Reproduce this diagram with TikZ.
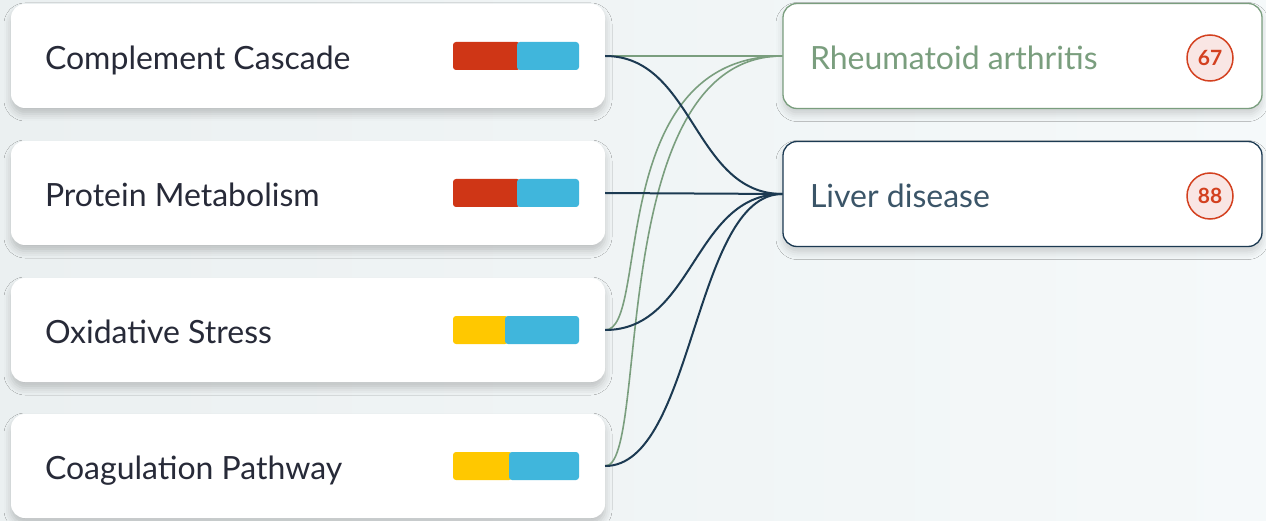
\documentclass[tikz,border=0pt]{standalone}
\usepackage{fontspec}
\setmainfont{Lato}
\usetikzlibrary{shadows.blur}

\definecolor{pagebg}{HTML}{EBF0F1}
\definecolor{pagebgr}{HTML}{F5F9FA}
\definecolor{inktext}{HTML}{272A38}
\definecolor{sage}{HTML}{7A9E7E}
\definecolor{navy}{HTML}{1C3A52}
\definecolor{slate}{HTML}{3B5568}
\definecolor{upred}{HTML}{CF3616}
\definecolor{midblue}{HTML}{40B6DC}
\definecolor{amber}{HTML}{FFC800}
\definecolor{badgered}{HTML}{D3401F}
\definecolor{badgefill}{HTML}{F9E6E4}

\begin{document}
\begin{tikzpicture}[
  x=1pt, y=-1pt,
  font=\fontsize{32}{36}\selectfont,
  pathway/.style={fill=white, rounded corners=14pt, minimum width=594pt, minimum height=104pt,
    inner xsep=34pt, text width=526pt, align=flush left, text=inktext, text height=30pt, text depth=3pt,
    blur shadow={shadow xshift=0pt, shadow yshift=-6pt, shadow blur radius=7pt, shadow opacity=20}},
  disease/.style={fill=white, rounded corners=14pt, minimum width=479pt, minimum height=105pt,
    inner xsep=27pt, text width=425pt, align=flush left, line width=1.3pt, text height=30pt, text depth=3pt,
    blur shadow={shadow xshift=0pt, shadow yshift=-6pt, shadow blur radius=7pt, shadow opacity=16}},
  score/.style={circle, draw=badgered, fill=badgefill, line width=1.5pt, minimum size=46pt,
    inner sep=0pt, text=badgered, font=\fontsize{21}{24}\selectfont\bfseries},
  seg/.style={rounded corners=3pt},
  sagelink/.style={draw=sage, line width=1.6pt},
  navylink/.style={draw=navy, line width=2pt}
]

\fill[left color=pagebg, right color=pagebgr] (0,0) rectangle (1266,521);
\useasboundingbox (0,0) rectangle (1266,521);

% pathway column
\node[pathway] (compl) at (308,56) {Complement Cascade};
\node[pathway] (protein) at (308,193) {Protein Metabolism};
\node[pathway] (oxid) at (308,330) {Oxidative Stress};
\node[pathway] (coag) at (308,466) {Coagulation Pathway};

% direction bars
\fill[seg, upred] (453,42) rectangle (520,70);
\fill[seg, midblue] (517,42) rectangle (579,70);
\fill[seg, upred] (453,179) rectangle (520,207);
\fill[seg, midblue] (517,179) rectangle (579,207);
\fill[seg, amber] (453,316) rectangle (508,344);
\fill[seg, midblue] (505,316) rectangle (579,344);
\fill[seg, amber] (453,452) rectangle (512,480);
\fill[seg, midblue] (509,452) rectangle (579,480);

% disease column
\node[disease, draw=sage, text=sage] (rheum) at (1022.5,56) {Rheumatoid arthritis};
\node[disease, draw=navy, text=slate] (liver) at (1022.5,194) {Liver disease};
\node[score] (rheumscore) at (1210,58) {67};
\node[score] (liverscore) at (1210,196) {88};

% links
\draw[sagelink] (compl.east) -- (rheum.west);
\draw[sagelink] (oxid.east) .. controls +(45,0) and +(-178,0) .. (rheum.west);
\draw[sagelink] (coag.east) .. controls +(45,0) and +(-178,0) .. (rheum.west);
\draw[navylink] (compl.east) .. controls +(89,0) and +(-89,0) .. (liver.west);
\draw[navylink] (protein.east) -- (liver.west);
\draw[navylink] (oxid.east) .. controls +(89,0) and +(-89,0) .. (liver.west);
\draw[navylink] (coag.east) .. controls +(89,0) and +(-89,0) .. (liver.west);

\end{tikzpicture}
\end{document}
